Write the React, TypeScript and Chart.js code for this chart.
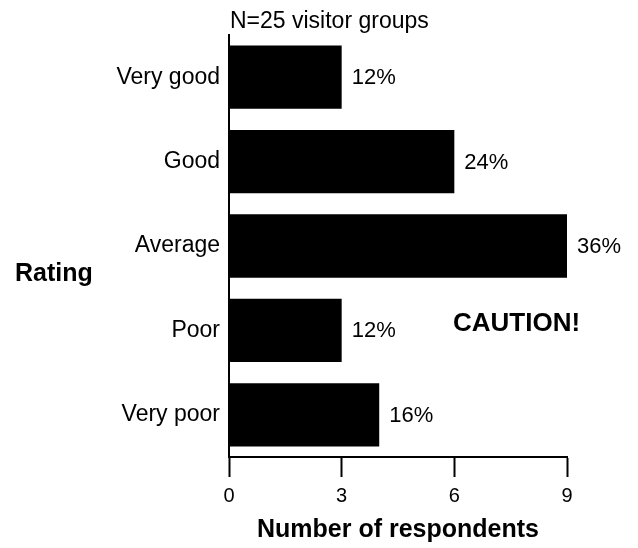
import React, { useEffect, useRef } from "react";
import { Chart, registerables } from "chart.js";

Chart.register(...registerables);

const categories = ["Very good", "Good", "Average", "Poor", "Very poor"];
const respondents = [3, 6, 9, 3, 4];
const totalGroups = 25;
const xTicks = [0, 3, 6, 9];
const subtitleText = "N=25 visitor groups";
const yTitleText = "Rating";
const xTitleText = "Number of respondents";
const noteText = "CAUTION!";

const FONT = "'Liberation Sans', Arial, Helvetica, sans-serif";

export default function App() {
  const ref = useRef<HTMLCanvasElement>(null);

  useEffect(() => {
    if (!ref.current) return;
    const annotations = {
      id: "annotations",
      afterDatasetsDraw(chart: any) {
        const ctx = chart.ctx;
        const meta = chart.getDatasetMeta(0);
        ctx.save();
        ctx.fillStyle = "#000";
        ctx.font = `22px ${FONT}`;
        ctx.textAlign = "left";
        ctx.textBaseline = "middle";
        meta.data.forEach((bar: any, i: number) => {
          const pct = Math.round((respondents[i] / totalGroups) * 100);
          ctx.fillText(`${pct}%`, bar.x + 10, bar.y + 1);
        });
        const area = chart.chartArea;
        ctx.textBaseline = "alphabetic";
        ctx.font = `23px ${FONT}`;
        ctx.fillText(subtitleText, area.left + 1, 28);
        ctx.font = `bold 25px ${FONT}`;
        ctx.fillText(yTitleText, 15, 281);
        ctx.font = `bold 26px ${FONT}`;
        ctx.fillText(noteText, 453, 331);
        ctx.restore();
      },
    };

    const chart = new Chart(ref.current, {
      type: "bar",
      data: {
        labels: categories,
        datasets: [
          {
            data: respondents,
            backgroundColor: "#000",
            borderWidth: 0,
            barPercentage: 0.75,
            categoryPercentage: 1,
          },
        ],
      },
      options: {
        indexAxis: "y",
        responsive: false,
        animation: false,
        layout: { padding: { top: 35, right: 71, left: 0, bottom: 0 } },
        plugins: {
          legend: { display: false },
          tooltip: { enabled: false },
          title: { display: false },
        },
        scales: {
          x: {
            type: "linear",
            min: 0,
            max: 9,
            afterBuildTicks: (s: any) => {
              s.ticks = xTicks.map((v) => ({ value: v }));
            },
            ticks: {
              color: "#000",
              font: { family: FONT, size: 20 },
              padding: 7,
              maxRotation: 0,
            },
            grid: {
              display: true,
              drawOnChartArea: false,
              drawTicks: true,
              tickLength: 20,
              tickWidth: 2,
              tickColor: "#000",
            },
            border: { display: true, color: "#000", width: 2 },
            title: {
              display: true,
              text: xTitleText,
              color: "#000",
              font: { family: FONT, size: 25, weight: "bold" },
              padding: { top: 0, bottom: 3 },
            },
            afterFit: (s: any) => {
              s.height = 91;
            },
          },
          y: {
            type: "category",
            ticks: {
              color: "#000",
              font: { family: FONT, size: 23 },
              padding: 9,
            },
            grid: { display: false, drawTicks: false },
            border: { display: true, color: "#000", width: 2 },
            afterFit: (s: any) => {
              s.width = 229;
            },
          },
        },
      },
      plugins: [annotations],
    });
    return () => chart.destroy();
  }, []);

  return (
    <div style={{ position: "absolute", left: 0, top: 0, width: 638, height: 548, background: "#fff" }}>
      <canvas ref={ref} width={638} height={548} style={{ display: "block" }} />
    </div>
  );
}
